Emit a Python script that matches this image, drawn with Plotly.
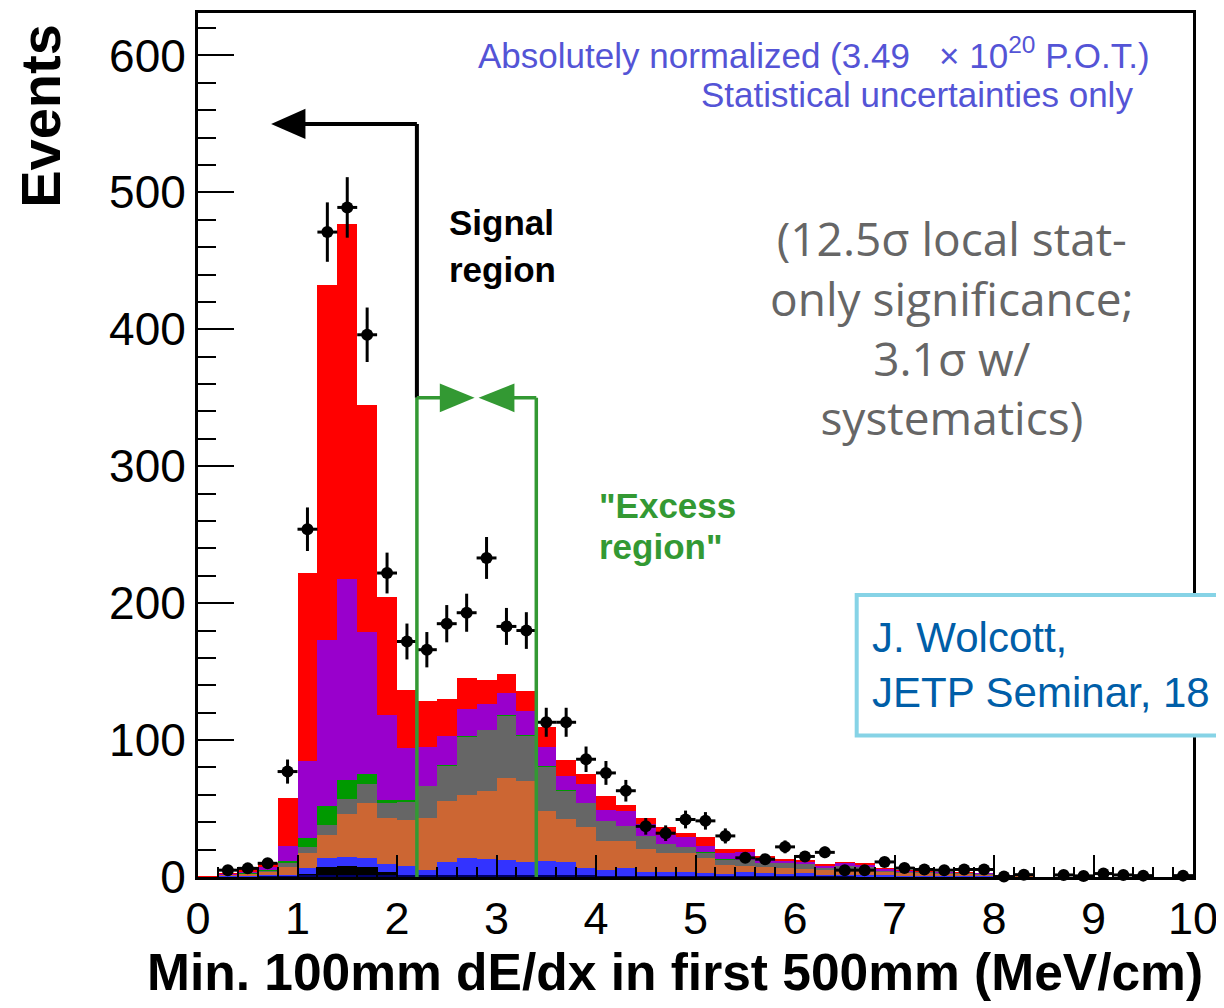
import numpy as np
import plotly.graph_objects as go

# ---------------- data ----------------
bin_width = 0.2
bin_centers = [round(0.1 + 0.2 * i, 2) for i in range(50)]

# cumulative stack tops (events), bottom layer first
navy_top = [0, 0, 0, 0.2, 0.5, 1.2, 1.2, 1.2, 1.2, 1.2, 1.2, 1.2, 1.2, 1.2, 1.2, 1.2, 1.2, 1.2, 1.0, 0.8,
            0.6, 0.5, 0.4, 0.3, 0.3, 0.2, 0.2, 0.2, 0.1, 0.1, 0.1, 0.1, 0.1, 0, 0, 0, 0, 0, 0, 0,
            0, 0, 0, 0, 0, 0, 0, 0, 0, 0]
black_top = [0, 0, 0, 0.2, 0.5, 2.5, 7.0, 8.0, 7.0, 4.0, 1.5, 1.2, 1.5, 1.5, 1.5, 1.5, 1.5, 1.2, 1.0, 0.8,
             0.6, 0.5, 0.4, 0.3, 0.3, 0.2, 0.2, 0.2, 0.1, 0.1, 0.1, 0.1, 0.1, 0, 0, 0, 0, 0, 0, 0,
             0, 0, 0, 0, 0, 0, 0, 0, 0, 0]
blue_top = [0, 0.3, 0.5, 0.8, 1.5, 6.3, 13.6, 14.8, 13.6, 9.5, 8.2, 5.1, 11.2, 13.6, 12.9, 12.4, 11.2, 11.9, 10.7, 6.3,
            5.1, 6.3, 3.9, 3.9, 3.4, 2.7, 2.0, 3.9, 3.1, 2.0, 3.1, 1.5, 1.0, 1.0, 0.8, 0.6, 0.5, 0.4, 0.3, 0.3,
            0.1, 0, 0, 0, 0, 0, 0, 0, 0, 0]
orange_top = [0, 1.0, 2.0, 3.5, 7.5, 17.2, 31.0, 45.9, 54.0, 43.4, 41.5, 43.2, 55.3, 60.2, 62.6, 72.3, 69.9, 48.3, 42.0, 36.2,
              26.4, 26.4, 20.1, 17.2, 17.2, 13.6, 8.5, 8.2, 7.5, 6.8, 5.8, 5.1, 5.8, 5.1, 3.9, 3.1, 2.8, 2.5, 2.2, 1.8,
              0.5, 0.3, 0, 0, 0, 0, 0, 0, 0, 0]
gray_top = [0, 1.2, 2.5, 4.5, 10.0, 21.6, 37.8, 57.3, 68.2, 54.0, 54.8, 66.2, 80.8, 102.6, 107.0, 117.9, 103.3, 80.3, 62.8, 54.1,
            41.0, 37.1, 30.0, 24.0, 21.6, 17.7, 12.6, 12.4, 10.4, 10.0, 9.2, 6.3, 8.0, 7.0, 4.6, 3.8, 3.4, 3.0, 2.7, 2.2,
            0.7, 0.4, 0, 0, 0, 0, 0, 0, 0, 0]
green_top = [0, 1.3, 2.7, 5.0, 11.6, 28.6, 51.7, 70.6, 75.5, 56.5, 56.0, 66.5, 81.5, 103.0, 107.3, 118.2, 103.6, 80.8, 63.3, 54.3,
             41.2, 37.3, 30.2, 24.2, 21.8, 17.9, 12.8, 12.5, 10.5, 10.1, 9.3, 6.4, 8.1, 7.1, 4.7, 3.9, 3.5, 3.1, 2.8, 2.3,
             0.7, 0.4, 0, 0, 0, 0, 0, 0, 0, 0]
purple_top = [0, 2.0, 4.0, 7.5, 22.6, 85.0, 173.0, 217.4, 179.0, 118.0, 94.0, 94.8, 102.8, 122.5, 126.0, 134.4, 121.0, 94.8, 73.5, 68.2,
              49.3, 48.3, 38.6, 30.6, 29.3, 22.6, 17.2, 18.4, 14.0, 11.6, 10.7, 8.2, 10.0, 8.7, 5.6, 4.5, 4.0, 3.5, 3.2, 2.8,
              1.5, 0.6, 0, 0, 0, 0, 0, 0, 0, 0]
red_top = [0.5, 3.0, 5.5, 10.0, 57.7, 222.0, 432.0, 477.0, 344.7, 204.5, 136.8, 128.8, 130.0, 145.3, 144.0, 148.2, 135.6, 109.2, 85.2, 75.5,
           59.0, 52.9, 43.4, 36.2, 32.5, 28.9, 20.5, 20.4, 15.3, 13.1, 12.4, 9.5, 11.2, 10.0, 6.3, 5.1, 4.6, 4.0, 3.6, 3.2,
           1.8, 0.8, 0, 0, 0, 0, 0, 0, 0, 0]

data_x = [0.3, 0.5, 0.7, 0.9, 1.1, 1.3, 1.5, 1.7, 1.9, 2.1, 2.3, 2.5, 2.7, 2.9, 3.1, 3.3, 3.5, 3.7, 3.9, 4.1,
          4.3, 4.5, 4.7, 4.9, 5.1, 5.3, 5.5, 5.7, 5.9, 6.1, 6.3, 6.5, 6.7, 6.9, 7.1, 7.3, 7.5, 7.7, 7.9, 8.1,
          8.3, 8.7, 8.9, 9.1, 9.3, 9.5, 9.9]
data_y = [5, 6.3, 10, 77, 254, 471, 489, 396, 222, 172, 166, 185, 193, 233, 183, 180, 113, 113, 86, 76,
          63, 37, 32, 42, 41, 30, 14, 13, 22, 15, 18, 5, 5, 11, 6.5, 5.5, 5, 5.5, 5.5, 0.3,
          1.7, 1.5, 0.8, 2.5, 1.5, 1, 1]
data_err = [2.2, 2.5, 3.2, 8.8, 15.9, 21.7, 22.1, 19.9, 14.9, 13.1, 12.9, 13.6, 13.9, 15.3, 13.5, 13.4, 10.6, 10.6, 9.3, 8.7,
            7.9, 6.1, 5.7, 6.5, 6.4, 5.5, 3.7, 3.6, 4.7, 3.9, 4.2, 2.2, 2.2, 3.3, 2.5, 2.3, 2.2, 2.3, 2.3, 0.5,
            1.3, 1.2, 0.9, 1.6, 1.2, 1.0, 1.0]

x_tick_vals = [0, 1, 2, 3, 4, 5, 6, 7, 8, 9, 10]
y_tick_vals = [0, 100, 200, 300, 400, 500, 600]

# region markers (annotation geometry)
signal_cut = 2.2
excess_lo, excess_hi = 2.2, 3.4
signal_arrow_y = 550
excess_arrow_y = 350

# ---------------- figure ----------------
fig = go.Figure()

layers = [
    (red_top, "#ff0000"),
    (purple_top, "#9900cc"),
    (green_top, "#009900"),
    (gray_top, "#666666"),
    (orange_top, "#cc6633"),
    (blue_top, "#3333ff"),
    (black_top, "#000000"),
    (navy_top, "#000066"),
]
for vals, col in layers:
    fig.add_trace(go.Bar(x=bin_centers, y=vals, width=bin_width,
                         marker=dict(color=col, line=dict(width=0)),
                         showlegend=False, hoverinfo="skip"))

fig.add_trace(go.Scatter(
    x=data_x, y=data_y, mode="markers",
    marker=dict(color="black", size=12, symbol="circle"),
    error_y=dict(type="data", array=data_err, visible=True, color="black", thickness=3, width=0),
    error_x=dict(type="constant", value=bin_width / 2, visible=True, color="black", thickness=3, width=0),
    showlegend=False, cliponaxis=False))

shapes = []
# black "signal region" arrow
shapes.append(dict(type="line", xref="x", yref="y", x0=signal_cut, x1=signal_cut,
                   y0=excess_arrow_y, y1=signal_arrow_y, line=dict(color="black", width=4)))
shapes.append(dict(type="line", xref="x", yref="y", x0=signal_cut, x1=1.05,
                   y0=signal_arrow_y, y1=signal_arrow_y, line=dict(color="black", width=4)))
shapes.append(dict(type="path", xref="x", yref="y",
                   path=f"M 0.735,{signal_arrow_y} L 1.08,{signal_arrow_y + 11} L 1.08,{signal_arrow_y - 11} Z",
                   fillcolor="black", line=dict(width=0)))
# green "excess region"
g = "#339933"
shapes.append(dict(type="line", xref="x", yref="y", x0=excess_lo, x1=excess_lo, y0=0, y1=excess_arrow_y,
                   line=dict(color=g, width=3.5)))
shapes.append(dict(type="line", xref="x", yref="y", x0=excess_hi, x1=excess_hi, y0=0, y1=excess_arrow_y,
                   line=dict(color=g, width=3.5)))
shapes.append(dict(type="line", xref="x", yref="y", x0=excess_lo, x1=2.45, y0=excess_arrow_y, y1=excess_arrow_y,
                   line=dict(color=g, width=3.5)))
shapes.append(dict(type="line", xref="x", yref="y", x0=3.16, x1=excess_hi, y0=excess_arrow_y, y1=excess_arrow_y,
                   line=dict(color=g, width=3.5)))
shapes.append(dict(type="path", xref="x", yref="y",
                   path=f"M 2.78,{excess_arrow_y} L 2.43,{excess_arrow_y + 10.5} L 2.43,{excess_arrow_y - 10.5} Z",
                   fillcolor=g, line=dict(width=0)))
shapes.append(dict(type="path", xref="x", yref="y",
                   path=f"M 2.82,{excess_arrow_y} L 3.18,{excess_arrow_y + 10.5} L 3.18,{excess_arrow_y - 10.5} Z",
                   fillcolor=g, line=dict(width=0)))
# credit box
shapes.append(dict(type="rect", xref="paper", yref="paper", x0=0.662, x1=1.06, y0=0.1638, y1=0.3264,
                   fillcolor="white", line=dict(color="#86d3e6", width=4), layer="above"))

ann = []
F = "Liberation Sans, Arial, sans-serif"
def A(text, x, y, size, color, xanchor="left", bold=False, family=F, xref="paper", yref="paper", angle=0):
    t = f"<b>{text}</b>" if bold else text
    ann.append(dict(text=t, x=x, y=y, xref=xref, yref=yref, xanchor=xanchor, yanchor="middle",
                    showarrow=False, textangle=angle, font=dict(family=family, size=size, color=color)))

A("Signal", 0.2499, 0.7578, 35, "black", bold=True)
A("region", 0.2499, 0.7036, 35, "black", bold=True)
A("\"Excess", 0.4007, 0.4302, 35, g, bold=True)
A("region\"", 0.4007, 0.3829, 35, g, bold=True)
A("Absolutely normalized (3.49\u00a0\u00a0\u00a0\u00d7\u00a010<sup>20</sup> P.O.T.)", 0.9588, 0.954, 35, "#5454d6", xanchor="right")
A("Statistical uncertainties only", 0.9417, 0.9054, 35, "#5454d6", xanchor="right")
GF = "Open Sans, Ubuntu, sans-serif"
ann.append(dict(text="(12.5\u03c3 local stat-<br>only significance;<br>3.1\u03c3 w/<br>systematics)",
                x=0.7577, y=0.6355, xref="paper", yref="paper", xanchor="center", yanchor="middle",
                align="center", showarrow=False, font=dict(family=GF, size=46, color="#666666")))
A("J. Wolcott,", 0.675, 0.277, 42, "#005ea8")
A("JETP Seminar, 18", 0.675, 0.213, 42, "#005ea8")
A("Events", -0.1578, 0.881, 56, "black", xanchor="center", bold=True, angle=-90)
A("Min. 100mm dE/dx in first 500mm (MeV/cm)", 1.012, -0.1096, 51.5, "black", xanchor="right", bold=True)

# page body has an 8px default margin: figure is 8px smaller, plot area placed accordingly
fig.update_layout(
    width=1216, height=1000,
    margin=dict(l=190, r=31, t=2, b=131),
    paper_bgcolor="white", plot_bgcolor="white",
    barmode="overlay", bargap=0,
    shapes=shapes, annotations=ann,
    font=dict(family=F, size=46, color="black"),
    showlegend=False,
)
fig.update_xaxes(range=[0, 10], tickvals=x_tick_vals, ticks="inside", ticklen=22, tickwidth=2,
                 tickcolor="black", showline=True, linecolor="black", linewidth=3, mirror=True,
                 showgrid=False, zeroline=False, tickfont=dict(size=45),
                 minor=dict(dtick=0.2, ticks="inside", ticklen=10, tickwidth=2, tickcolor="black", showgrid=False))
fig.update_yaxes(range=[0, 631], tickvals=y_tick_vals, ticks="inside", ticklen=36, tickwidth=2,
                 tickcolor="black", showline=True, linecolor="black", linewidth=3, mirror=True,
                 showgrid=False, zeroline=False, tickfont=dict(size=46),
                 minor=dict(dtick=20, ticks="inside", ticklen=18, tickwidth=2, tickcolor="black", showgrid=False))

fig.write_html("out.html")
